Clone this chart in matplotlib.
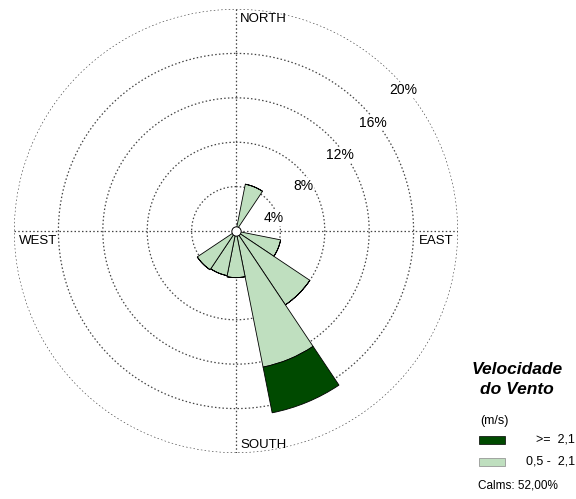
import numpy as np
import matplotlib.pyplot as plt
from matplotlib.patches import Rectangle

plt.rcParams['font.family'] = ['Liberation Sans', 'DejaVu Sans']

# wind frequencies (%) per direction, by speed class
directions = ['N', 'NNE', 'NE', 'ENE', 'E', 'ESE', 'SE', 'SSE',
              'S', 'SSW', 'SW', 'WSW', 'W', 'WNW', 'NW', 'NNW']
bearings = [0, 22.5, 45, 67.5, 90, 112.5, 135, 157.5,
            180, 202.5, 225, 247.5, 270, 292.5, 315, 337.5]
freq_low = [0, 4.3, 0, 0, 0, 4.1, 8.0, 12.5, 4.2, 4.1, 4.2, 0, 0, 0, 0, 0]    # 0,5 - 2,1
freq_high = [0, 0, 0, 0, 0, 0, 0, 4.2, 0, 0, 0, 0, 0, 0, 0, 0]                 # >= 2,1
rings = [4, 8, 12, 16, 20]
ring_labels = ['4%', '8%', '12%', '16%', '20%']
# where the ring labels sit (bearing deg, radius %)
ring_label_pos = [(70.9, 3.55), (56.4, 7.3), (54.1, 11.6), (51.5, 15.7), (50.0, 19.7)]
calms = '52,00%'

light = '#bfdfbf'
dark = '#004a00'

fig = plt.figure(figsize=(5.76, 4.99), dpi=100)
W, H = 576, 499
cx, cy, R = 236, 231, 222
ax = fig.add_axes([(cx - R) / W, (H - cy - R) / H, 2 * R / W, 2 * R / H], projection='polar')
ax.set_theta_zero_location('N')
ax.set_theta_direction(-1)
ax.set_ylim(0, 20)
ax.grid(False)
ax.set_xticks([])
ax.set_yticks([])
ax.spines['polar'].set_visible(False)
ax.patch.set_alpha(0)

# dotted rings and cross
t = np.linspace(0, 2 * np.pi, 400)
for r in rings:
    ax.plot(t, np.full_like(t, r), color='#444444', lw=0.9, ls=(0, (1.2, 1.8)), zorder=1)
for a in [0, np.pi / 2]:
    ax.plot([a, a + np.pi], [20, 20], color='#444444', lw=0.9, ls=(0, (1.2, 1.8)), zorder=1)

theta = np.radians(bearings)
width = np.radians(22.5)
ax.bar(theta, freq_low, width=width, bottom=0, color=light, edgecolor='black', lw=0.6, zorder=3)
ax.bar(theta, freq_high, width=width, bottom=freq_low, color=dark, edgecolor='black', lw=0.6, zorder=3)
ax.scatter([0], [0], s=45, facecolor='white', edgecolor='black', lw=0.7, zorder=5)

for lab, (b, r) in zip(ring_labels, ring_label_pos):
    ax.text(np.radians(b), r, lab, fontsize=10, ha='center', va='center', zorder=4,
            bbox=dict(facecolor='white', edgecolor='none', pad=0.5))

def ftext(x, y, s, **kw):
    fig.text(x / W, 1 - y / H, s, **kw)

ftext(240, 19.5, 'NORTH', fontsize=9.5, ha='left', va='center')
ftext(19, 241.5, 'WEST', fontsize=9.5, ha='left', va='center')
ftext(453, 241.5, 'EAST', fontsize=9.5, ha='right', va='center')
ftext(240, 444.5, 'SOUTH', fontsize=9.5, ha='left', va='center')

# legend
ftext(517, 370, 'Velocidade', fontsize=12.5, weight='bold', style='italic', ha='center', va='center')
ftext(517, 390, 'do Vento', fontsize=12.5, weight='bold', style='italic', ha='center', va='center')
ftext(480, 421, '(m/s)', fontsize=9, ha='left', va='center')
fig.patches.append(Rectangle((479 / W, 1 - 444 / H), 26 / W, 8.5 / H, transform=fig.transFigure,
                             facecolor=dark, edgecolor='black', lw=0.5))
fig.patches.append(Rectangle((479 / W, 1 - 466 / H), 26 / W, 8.5 / H, transform=fig.transFigure,
                             facecolor=light, edgecolor='#888888', lw=0.5))
ftext(575, 440, '>=  2,1', fontsize=9, ha='right', va='center')
ftext(575, 461.5, '0,5 -  2,1', fontsize=9, ha='right', va='center')
ftext(478, 486, 'Calms: ' + calms, fontsize=8.5, ha='left', va='center')

fig.savefig('out.png', dpi=100)
